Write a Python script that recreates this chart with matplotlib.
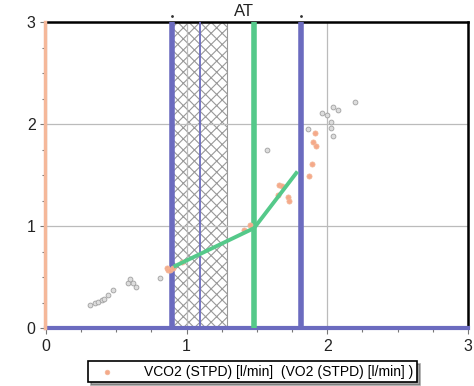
import matplotlib
matplotlib.use("Agg")
import matplotlib.pyplot as plt
from matplotlib.patches import Rectangle
import numpy as np

plt.rcParams['font.family'] = ['Liberation Sans', 'DejaVu Sans']
plt.rcParams['hatch.linewidth'] = 0.8
plt.rcParams['hatch.color'] = '#444444'

# VO2 series (gray dots)
vo2_x = [0.31, 0.35, 0.37, 0.40, 0.41, 0.44, 0.48, 0.58, 0.60, 0.62, 0.64, 0.81,
         1.57, 1.86, 1.96, 2.00, 2.03, 2.03, 2.04, 2.04, 2.08, 2.20]
vo2_y = [0.225, 0.245, 0.255, 0.275, 0.285, 0.32, 0.37, 0.44, 0.48, 0.44, 0.40, 0.49,
         1.75, 1.95, 2.11, 2.09, 2.02, 1.96, 1.88, 2.17, 2.14, 2.22]

# VCO2 series (orange dots)
vco2_x = [0.86, 0.87, 0.88, 0.90, 0.97, 1.41, 1.45, 1.65, 1.66, 1.68, 1.72, 1.73,
          1.87, 1.89, 1.90, 1.91, 1.92]
vco2_y = [0.59, 0.57, 0.57, 0.59, 0.65, 0.96, 1.01, 1.30, 1.40, 1.39, 1.28, 1.25,
          1.49, 1.61, 1.82, 1.91, 1.78]

# regression line (two segments)
fit_x = [0.92, 1.48, 1.78]
fit_y = [0.61, 0.98, 1.52]

# vertical markers
vt1 = 0.895
vt1_thin = 1.095
hatch_end = 1.29
at_x = 1.48
rcp = 1.81

fig = plt.figure(figsize=(4.74, 3.86), dpi=100)
ax = fig.add_axes([0.097, 0.150, 0.890, 0.793])
ax.set_xlim(0, 3)
ax.set_ylim(0, 3)

ax.set_xticks([0, 1, 2, 3])
ax.set_yticks([0, 1, 2, 3])
ax.set_xticks(np.arange(0, 3.01, 0.25), minor=True)
ax.set_yticks(np.arange(0, 3.01, 0.25), minor=True)
ax.tick_params(which='both', direction='out', colors='#777777', labelcolor='#222222',
               labelsize=11.5, length=4, width=0.8)
ax.tick_params(which='minor', length=3)
ax.grid(True, which='major', color='#bbbbbb', lw=0.9)

# hatched region
ax.add_patch(Rectangle((vt1, 0), hatch_end - vt1, 3, facecolor='white',
                       edgecolor='#999999', hatch='xxx', lw=0.8, zorder=1))

ax.axvline(-0.01, color='#f5b89a', lw=2.5, zorder=3, clip_on=False)
ax.axvline(vt1, color='#6b6bbf', lw=4, zorder=3)
ax.axvline(vt1_thin, color='#6b6bbf', lw=1.3, zorder=3)
ax.axvline(at_x, color='#55c98a', lw=4, zorder=3)
ax.axvline(rcp, color='#6b6bbf', lw=4, zorder=3)

ax.scatter(vo2_x, vo2_y, s=12, facecolor='#dddddd', edgecolor='#a0a0a0', lw=0.6, zorder=4)
ax.scatter(vco2_x, vco2_y, s=14, facecolor='#f5a98a', edgecolor='#f3b898', lw=0.5, zorder=4,
           label='VCO2 (STPD) [l/min]  (VO2 (STPD) [l/min] )')
ax.plot(fit_x, fit_y, color='#55c98a', lw=2.8, zorder=5)

for s in ['top', 'right']:
    ax.spines[s].set_color('black')
    ax.spines[s].set_linewidth(1.8)
ax.spines['left'].set_visible(False)
ax.spines['bottom'].set_color('#6b6bbf')
ax.spines['bottom'].set_linewidth(3)

ax.text(at_x - 0.07, 3.03, 'AT', fontsize=12, ha='center', va='bottom', color='#222222')
ax.plot([vt1, rcp], [3.06, 3.06], ls='none', marker='.', ms=2, color='#333333', clip_on=False)

leg = ax.legend(loc='upper center', bbox_to_anchor=(0.49, -0.085), fontsize=10,
                frameon=True, fancybox=False, shadow=True, handletextpad=1.6,
                borderpad=0.25, markerscale=0.9, handlelength=2.2)
leg.get_frame().set_edgecolor('black')
leg.get_frame().set_linewidth(1.2)

fig.savefig('out.png', dpi=100)
